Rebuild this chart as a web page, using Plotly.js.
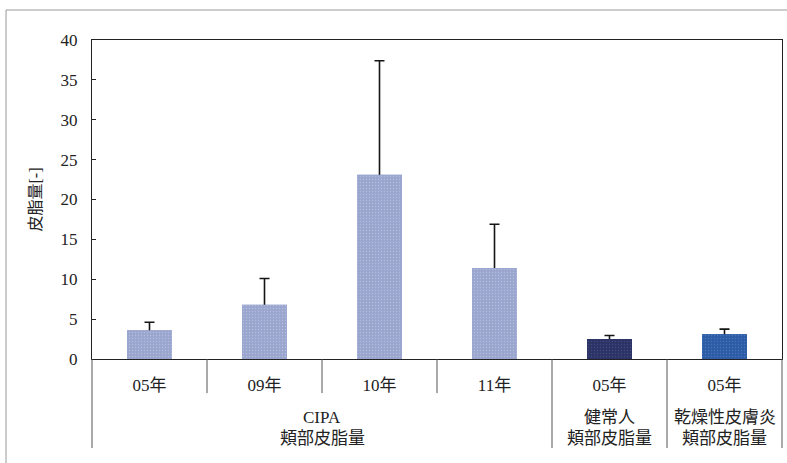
<!DOCTYPE html>
<html>
<head>
<meta charset="utf-8">
<script src="https://cdn.plot.ly/plotly-3.0.1.min.js"></script>
<style>
  html, body { margin: 0; padding: 0; background: #fff; }
  #chart { width: 787px; height: 463px; }
</style>
</head>
<body>
<div id="chart"></div>
<script>
// Sebum measurements by group and year
const yearLabels = ['05年', '09年', '10年', '11年', '05年', '05年'];
const barGroup = ['CIPA', 'CIPA', 'CIPA', 'CIPA', '健常人', '乾燥性皮膚炎'];
const groupMeasure = '頬部皮脂量';
const sebumMean = [3.6, 6.8, 23.1, 11.4, 2.5, 3.1];
const sebumSD = [1.0, 3.3, 14.3, 5.5, 0.45, 0.65];
const barColors = ['#9ba6cf', '#9ba6cf', '#9ba6cf', '#9ba6cf', '#2c3366', '#2d5ca6'];
const speckColors = ['#c9d0ec', '#c9d0ec', '#c9d0ec', '#c9d0ec', '#535c94', '#5e8acd'];

const serif = 'Liberation Serif, Noto Sans CJK JP, serif';
const xPos = yearLabels.map((_, i) => i);
const nCat = yearLabels.length;

// Category boundaries and the groups they separate
const boundaries = [];
for (let i = 0; i <= nCat; i++) boundaries.push(i - 0.5);
const groups = [];
barGroup.forEach((g, i) => {
  const last = groups[groups.length - 1];
  if (last && last.name === g) last.end = i;
  else groups.push({ name: g, start: i, end: i });
});
const groupEdges = new Set([-0.5]);
groups.forEach(g => groupEdges.add(g.end + 0.5));

// paper-x of an x-axis value (range is [-0.5, nCat - 0.5])
const toPaperX = v => (v + 0.5) / nCat;

// Whiskers: error bars reaching from zero up to mean + SD on the main axes.
const whiskers = {
  type: 'bar',
  x: xPos,
  y: sebumMean,
  width: 0.39,
  marker: { color: barColors, line: { width: 0 } },
  error_y: {
    type: 'data',
    symmetric: false,
    array: sebumSD,
    arrayminus: sebumMean,
    color: '#151515',
    thickness: 1.6,
    width: 5
  },
  hoverinfo: 'skip',
  showlegend: false,
  xaxis: 'x',
  yaxis: 'y'
};

// Solid bars on an overlaid pair of axes, so they sit above the whisker stems.
const bars = {
  type: 'bar',
  x: xPos,
  y: sebumMean,
  width: 0.39,
  marker: { color: barColors, line: { width: 0 } },
  showlegend: false,
  xaxis: 'x2',
  yaxis: 'y2'
};

// Fine light speckle over each bar (transparent pattern background)
const speckle = {
  type: 'bar',
  x: xPos,
  y: sebumMean,
  width: 0.39,
  marker: {
    color: speckColors,
    line: { width: 0 },
    pattern: { shape: '.', fillmode: 'replace', size: 3, solidity: 0.15, fgopacity: 0.55 }
  },
  hoverinfo: 'skip',
  showlegend: false,
  xaxis: 'x2',
  yaxis: 'y2'
};

// Category divider lines below the axis: short inside a group, long at group edges
const dividerShapes = boundaries.map(b => ({
  type: 'line', xref: 'paper', yref: 'paper',
  x0: toPaperX(b), x1: toPaperX(b),
  y0: 0, y1: groupEdges.has(b) ? -0.279 : -0.107,
  line: { color: '#555', width: 1 }
}));

// Two-line group captions under the year labels
const groupAnnotations = [];
groups.forEach(g => {
  const cx = (g.start + g.end) / 2;
  groupAnnotations.push({
    x: cx, xref: 'x', y: -0.182, yref: 'paper', yanchor: 'middle',
    text: g.name, showarrow: false, font: { family: serif, size: 17, color: '#222' }
  });
  groupAnnotations.push({
    x: cx, xref: 'x', y: -0.25, yref: 'paper', yanchor: 'middle',
    text: groupMeasure, showarrow: false, font: { family: serif, size: 17, color: '#222' }
  });
});

const layout = {
  width: 787,
  height: 463,
  margin: { l: 92, r: 5, t: 40, b: 104 },
  paper_bgcolor: '#ffffff',
  plot_bgcolor: '#ffffff',
  barmode: 'overlay',
  font: { family: serif, color: '#222', size: 17 },
  xaxis: {
    range: [-0.5, nCat - 0.5],
    tickvals: xPos,
    ticktext: yearLabels,
    ticks: '',
    showline: true,
    linecolor: '#222',
    linewidth: 1.2,
    mirror: true,
    ticklabelstandoff: 10,
    tickfont: { family: serif, size: 17, color: '#222' },
    showgrid: false,
    zeroline: false
  },
  xaxis2: {
    range: [-0.5, nCat - 0.5],
    overlaying: 'x',
    visible: false
  },
  yaxis: {
    range: [0, 40],
    dtick: 5,
    showline: true,
    linecolor: '#222',
    linewidth: 1.2,
    mirror: true,
    ticks: 'inside',
    ticklen: 4,
    tickcolor: '#222',
    ticklabelstandoff: 10,
    showgrid: false,
    zeroline: false,
    tickfont: { family: serif, size: 17, color: '#222' },
    title: { text: '皮脂量[-]', font: { family: serif, size: 16, color: '#222' }, standoff: 14 }
  },
  yaxis2: {
    range: [0, 40],
    overlaying: 'y',
    visible: false
  },
  annotations: groupAnnotations,
  shapes: [
    ...dividerShapes,
    { type: 'line', xref: 'paper', yref: 'paper', x0: -0.1246, x1: 1.01, y0: 1.094, y1: 1.094,
      line: { color: '#999', width: 1 } },
    { type: 'line', xref: 'paper', yref: 'paper', x0: -0.1246, x1: -0.1246, y0: 1.094, y1: -0.33,
      line: { color: '#999', width: 1 } }
  ]
};

Plotly.newPlot('chart', [whiskers, bars, speckle], layout, { displayModeBar: false, staticPlot: true });
</script>
</body>
</html>
